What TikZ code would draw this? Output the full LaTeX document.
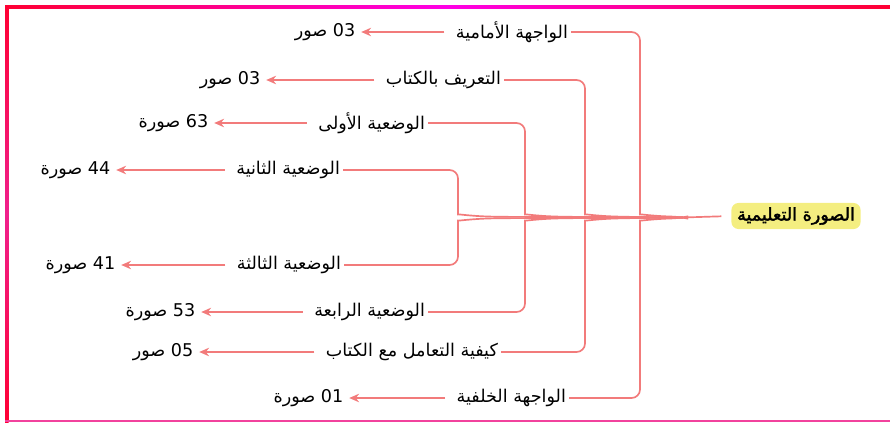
\documentclass[tikz,border=0pt]{standalone}
\usepackage{fontspec}
\usetikzlibrary{positioning,arrows.meta}
\TeXXeTstate=1
\newfontfamily\arabicfont[Script=Arabic]{DejaVu Sans}
\newfontfamily\arabicroot[Script=Arabic,FakeBold=2]{DejaVu Sans}
\definecolor{linkred}{HTML}{F27B7B}
\definecolor{framered}{HTML}{FF0033}
\definecolor{framemag}{HTML}{FF00E6}
\definecolor{framepink}{HTML}{F0208C}
\definecolor{glowyel}{HTML}{F4EE80}
\newcommand{\artxt}[1]{\arabicfont\beginR #1\endR}
\newcommand{\arcount}[2]{\arabicfont\beginR\beginL #1\endL{} #2\endR}

\begin{document}
\begin{tikzpicture}[x=0.025cm, y=-0.025cm,
  lab/.style={font=\fontsize{12.5}{14}\selectfont, inner xsep=2pt, inner ysep=1pt, anchor=east},
  cnt/.style={font=\fontsize{12.5}{14}\selectfont, inner xsep=1pt, inner ysep=1pt, anchor=east},
  conn/.style={draw=linkred, line width=1.2pt, rounded corners=6pt},
  arr/.style={draw=linkred, line width=1.1pt, -{Stealth[length=7pt,width=6pt]}, shorten <=6pt, shorten >=3pt},
  root/.style={font=\fontsize{12.5}{14}\selectfont, fill=glowyel, rounded corners=5pt, inner xsep=4pt, inner ysep=3pt},
]
\useasboundingbox (0,0) rectangle (890,422);
% frame
\shade[left color=framered, right color=framered, middle color=framemag] (5,5) rectangle (890,8.5);
\shade[top color=framered, bottom color=framered, middle color=framepink] (5,5) rectangle (8.5,422);
\fill[framepink!85] (5,419.5) rectangle (890,421.5);

% rows: label, count and arrow
\foreach \i/\y/\lx/\cx/\txt/\n/\w in {%
  1/32/571/357/{الواجهة الأمامية}/03/صور,
  2/80/504/262/{التعريف بالكتاب}/03/صور,
  3/123/428/210/{الوضعية الأولى}/63/صورة,
  4/170/343/112/{الوضعية الثانية}/44/صورة,
  5/265/344/117/{الوضعية الثالثة}/41/صورة,
  6/312/428/197/{الوضعية الرابعة}/53/صورة,
  7/352/501/195/{كيفية التعامل مع الكتاب}/05/صور,
  8/398/569/345/{الواجهة الخلفية}/01/صورة%
} {
  \node[lab] (l\i) at (\lx,\y) {\artxt{\txt}};
  \node[cnt] (c\i) at (\cx,\y) {\arcount{\n}{\w}};
  \draw[arr] (l\i) -- (c\i);
}

% root and the brackets joining into it
\node[root] (root) at (796,216) {\arabicroot\beginR الصورة التعليمية\endR};
\coordinate (hub) at (683,217.5);
\draw[conn, shorten >=7pt] (hub) -- (root.west);
\foreach \t/\b/\x in {1/8/640, 2/7/585, 3/6/525, 4/5/458} {
  \draw[conn] (l\t.east) -| (\x,206) .. controls (\x,214) and (\x+12,216) .. (\x+40,216.8) -- (hub);
  \draw[conn] (l\b.east) -| (\x,229) .. controls (\x,221) and (\x+12,219) .. (\x+40,218.2) -- (hub);
}
\end{tikzpicture}
\end{document}
